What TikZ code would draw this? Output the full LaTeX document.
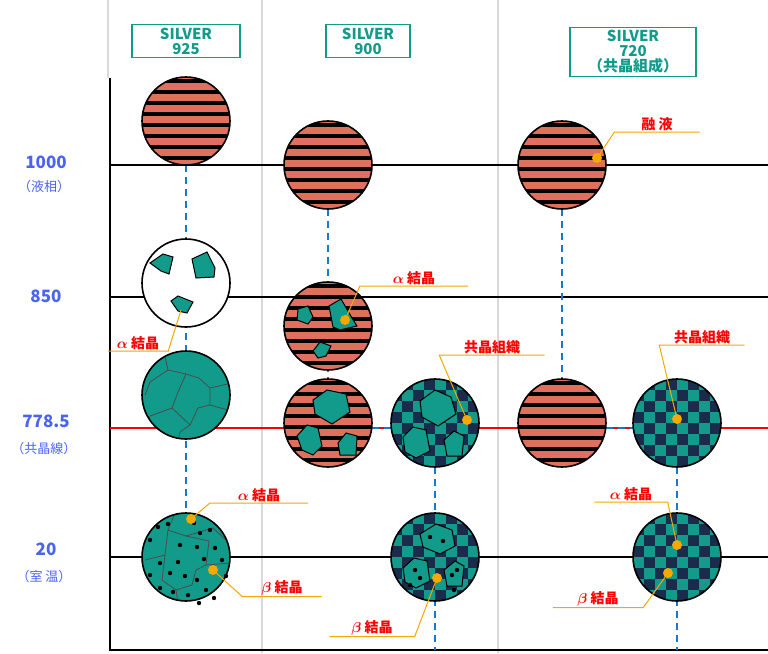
\documentclass[tikz,border=0pt]{standalone}
\usepackage{fontspec}
\setmainfont{Noto Sans CJK JP}
\usepackage{amsmath}
\definecolor{teal1}{HTML}{129A8A}
\definecolor{navy1}{HTML}{1B2B4B}
\definecolor{salmon1}{HTML}{E0705E}
\definecolor{axisblue}{HTML}{4A63F0}
\definecolor{dashblue}{HTML}{1877D0}
\definecolor{leadorange}{HTML}{F5A800}
\tikzset{
    ring/.style={draw=black, line width=1.6pt},
    grain/.style={fill=teal1, draw=black, line width=1pt},
    bound/.style={draw=black!70, line width=0.8pt},
    tie/.style={dashblue, line width=2.2pt, dash pattern=on 7pt off 5pt},
    level/.style={black, line width=1.8pt},
    guide/.style={black!15, line width=2pt},
    lead/.style={leadorange, line width=1pt},
    tag/.style={text=red, font=\bfseries\fontsize{14}{14}\selectfont, inner sep=1pt, minimum height=16pt},
    head/.style={draw=teal1, line width=1.4pt, text=teal1, align=center,
        font=\bfseries\fontsize{15}{15}\selectfont, inner sep=3pt},
    temp/.style={text=axisblue, align=center, font=\bfseries\fontsize{17}{17}\selectfont},
    sub/.style={text=axisblue, font=\fontsize{13}{13}\selectfont},
}
% liquid with stripes
\newcommand\melt[2]{
    \begin{scope}
        \clip (#1,#2) circle (44);
        \fill[salmon1] (#1,#2) circle (44);
        \foreach \d in {-40,-29,...,44}
            \draw[black, line width=4.5pt] (#1-50,#2+\d) -- (#1+50,#2+\d);
    \end{scope}
}
% eutectic checkers
\newcommand\checks[2]{
    \begin{scope}
        \clip (#1,#2) circle (44);
        \fill[navy1] (#1,#2) circle (44);
        \foreach \i in {-4,...,3}
            \foreach \j in {-4,...,3} {
                \pgfmathtruncatemacro\odd{mod(\i+\j+8,2)}
                \ifnum\odd=0
                    \fill[teal1] (#1+\i*11,#2+\j*11) rectangle ++(11,11);
                \fi
            }
    \end{scope}
}
\newcommand\specks[1]{
    \foreach \p in {#1} \fill[black] \p circle (2.2);
}

\begin{document}
\begin{tikzpicture}[x=1pt, y=-1pt]
    \useasboundingbox (0,0) rectangle (768,653);

    % guides and axes
    \draw[guide] (108,0) -- (108,78);
    \draw[guide] (262,0) -- (262,653);
    \draw[guide] (498,0) -- (498,653);
    \draw[level] (110,78) -- (110,650) -- (768,650);
    \draw[level] (110,165) -- (768,165);
    \draw[level] (110,297) -- (768,297);
    \draw[red, line width=2pt] (110,428) -- (768,428);
    \draw[level] (110,557) -- (768,557);

    % temperatures
    \node[temp] (t1) at (46,162) {1000};
    \node[sub] (s1) at (44,187) {（液相）};
    \node[temp] (t2) at (46,296) {850};
    \node[temp] (t3) at (46,421) {778.5};
    \node[sub] (s3) at (44,449) {（共晶線）};
    \node[temp] (t4) at (46,549) {20};
    \node[sub] (s4) at (44,577) {（室 温）};

    % headers
    \node[head, minimum width=108pt] (h1) at (186,41) {SILVER\\925};
    \node[head, minimum width=84pt] (h2) at (368,41) {SILVER\\900};
    \node[head, minimum width=126pt] (h3) at (633,52) {SILVER\\720\\（共晶組成）};

    % tie lines
    \draw[tie] (186,165) -- (186,513);
    \draw[tie] (328,209) -- (328,380);
    \draw[tie] (435,467) -- (435,650);
    \draw[tie] (372,428) -- (391,428);
    \draw[tie] (562,209) -- (562,380);
    \draw[tie] (677,467) -- (677,650);
    \draw[tie] (606,428) -- (633,428);

    % SILVER 925
    \melt{186}{121}
    \draw[ring] (186,121) circle (44);
    \fill[white] (186,283) circle (44);
    \draw[grain] (150,263) -- (163,254) -- (173,257) -- (169,274) -- (161,271) -- cycle;
    \draw[grain] (192,259) -- (207,252) -- (215,268) -- (214,277) -- (196,278) -- cycle;
    \draw[grain] (171,301) -- (178,296) -- (193,302) -- (187,313) -- (178,311) -- cycle;
    \draw[ring] (186,283) circle (44);
    \fill[teal1] (186,395) circle (44);
    \begin{scope}
        \clip (186,395) circle (44);
        \draw[bound] (164,352) -- (168,370) -- (186,374) -- (199,378) -- (210,388) -- (232,383);
        \draw[bound] (168,370) -- (150,382) -- (145,395);
        \draw[bound] (186,374) -- (178,392) -- (172,408) -- (150,416) -- (146,430);
        \draw[bound] (210,388) -- (210,405) -- (198,408) -- (190,425) -- (180,432) -- (178,440);
        \draw[bound] (172,408) -- (190,425);
        \draw[bound] (210,405) -- (228,410);
    \end{scope}
    \draw[ring] (186,395) circle (44);
    \fill[teal1] (186,557) circle (44);
    \begin{scope}
        \clip (186,557) circle (44);
        \draw[bound] (175,513) -- (168,530) -- (186,536) -- (213,528) -- (226,540);
        \draw[bound] (168,530) -- (165,555) -- (162,580) -- (176,590) -- (178,602);
        \draw[bound] (186,536) -- (209,541) -- (206,565) -- (196,570) -- (192,585) -- (176,590);
        \draw[bound] (165,555) -- (145,560);
        \draw[bound] (206,565) -- (230,563);
    \end{scope}
    \specks{(158,527),(168,524),(194,523),(200,533),(210,530),(150,540),(180,545),(197,547),
        (215,548),(222,560),(160,563),(178,562),(204,559),(150,575),(170,573),(185,576),
        (197,580),(226,576),(160,588),(173,592),(188,595),(206,590),(214,598),(199,603)}
    \draw[ring] (186,557) circle (44);

    % SILVER 900
    \melt{328}{165}
    \draw[ring] (328,165) circle (44);
    \melt{328}{326}
    \draw[grain] (298,309) -- (308,306) -- (313,317) -- (308,324) -- (297,320) -- cycle;
    \draw[grain] (329,306) -- (341,299) -- (352,318) -- (357,326) -- (340,330) -- (333,327) -- cycle;
    \draw[grain] (313,351) -- (320,342) -- (331,346) -- (326,356) -- (318,358) -- cycle;
    \draw[ring] (328,326) circle (44);
    \melt{328}{423}
    \draw[grain] (313,400) -- (327,390) -- (346,394) -- (350,412) -- (332,424) -- (315,414) -- cycle;
    \draw[grain] (297,436) -- (307,425) -- (318,428) -- (322,446) -- (313,455) -- (302,450) -- cycle;
    \draw[grain] (338,443) -- (346,433) -- (357,436) -- (356,455) -- (340,455) -- cycle;
    \draw[ring] (328,423) circle (44);
    \checks{435}{423}
    \draw[grain] (420,401) -- (435,390) -- (451,397) -- (456,414) -- (438,426) -- (422,417) -- cycle;
    \draw[grain] (403,437) -- (413,427) -- (426,430) -- (430,451) -- (416,458) -- (405,452) -- cycle;
    \draw[grain] (444,440) -- (454,431) -- (464,436) -- (462,456) -- (447,456) -- cycle;
    \draw[ring] (435,423) circle (44);
    \checks{435}{557}
    \draw[grain] (420,534) -- (436,524) -- (452,530) -- (455,546) -- (440,554) -- (423,547) -- cycle;
    \draw[grain] (403,568) -- (414,558) -- (427,561) -- (430,581) -- (416,588) -- (405,582) -- cycle;
    \draw[grain] (444,570) -- (455,561) -- (464,566) -- (462,586) -- (447,586) -- cycle;
    \specks{(430,537),(443,541),(415,570),(420,578),(452,575),(457,570),(410,585),(454,590)}
    \draw[ring] (435,557) circle (44);

    % SILVER 720
    \melt{562}{165}
    \draw[ring] (562,165) circle (44);
    \melt{562}{423}
    \draw[ring] (562,423) circle (44);
    \checks{677}{423}
    \draw[ring] (677,423) circle (44);
    \checks{677}{557}
    \draw[ring] (677,557) circle (44);

    % callouts
    \coordinate (d1) at (597,158);
    \coordinate (d2) at (345,320);
    \coordinate (d3) at (181,310);
    \coordinate (d4) at (467,420);
    \coordinate (d5) at (677,419);
    \coordinate (d6) at (191,519);
    \coordinate (d7) at (213,570);
    \coordinate (d8) at (437,578);
    \coordinate (d9) at (677,545);
    \coordinate (d10) at (668,573);
    \foreach \d in {d1,d2,d4,d5,d6,d7,d8,d9,d10}
        \fill[leadorange] (\d) circle (5);

    \node[tag, minimum width=85pt] (c1) at (657,124) {融 液};
    \node[tag, minimum width=108pt] (c2) at (414,278) {$\boldsymbol{\alpha}$ 結晶};
    \node[tag, minimum width=60pt] (c3) at (138,343) {$\boldsymbol{\alpha}$ 結晶};
    \node[tag, minimum width=105pt] (c4) at (492,347) {共晶組織};
    \node[tag, minimum width=85pt] (c5) at (702,337) {共晶組織};
    \node[tag, minimum width=98pt] (c6) at (259,495) {$\boldsymbol{\alpha}$ 結晶};
    \node[tag, minimum width=79pt] (c7) at (282,588) {$\boldsymbol{\beta}$ 結晶};
    \node[tag, minimum width=85pt] (c8) at (372,628) {$\boldsymbol{\beta}$ 結晶};
    \node[tag, minimum width=73pt] (c9) at (631,494) {$\boldsymbol{\alpha}$ 結晶};
    \node[tag, minimum width=90pt] (c10) at (598,599) {$\boldsymbol{\beta}$ 結晶};

    \draw[lead] (c1.south east) -- (c1.south west) -- (d1);
    \draw[lead] (c2.south east) -- (c2.south west) -- (d2);
    \draw[lead] (c3.south west) -- (c3.south east) -- (d3);
    \draw[lead] (c4.south east) -- (c4.south west) -- (d4);
    \draw[lead] (c5.south east) -- (c5.south west) -- (d5);
    \draw[lead] (c6.south east) -- (c6.south west) -- (d6);
    \draw[lead] (c7.south east) -- (c7.south west) -- (d7);
    \draw[lead] (c8.south west) -- (c8.south east) -- (d8);
    \draw[lead] (c9.south west) -- (c9.south east) -- (d9);
    \draw[lead] (c10.south west) -- (c10.south east) -- (d10);
\end{tikzpicture}
\end{document}
